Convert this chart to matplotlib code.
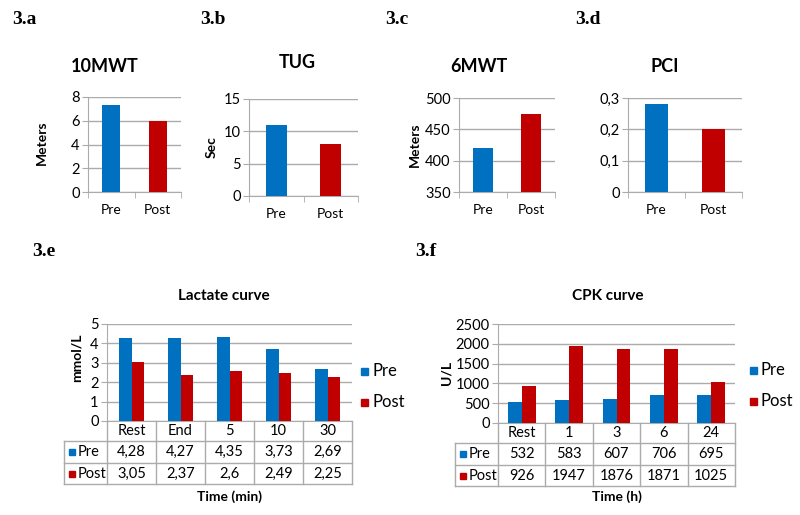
import matplotlib
matplotlib.use('Agg')
import matplotlib.pyplot as plt
from matplotlib.transforms import blended_transform_factory as blend
from matplotlib.patches import Rectangle
from matplotlib.lines import Line2D

plt.rcParams['font.family'] = ['Lato', 'DejaVu Sans']

# ---------------- data ----------------
groups = ['Pre', 'Post']
mwt10 = [7.3, 6.0]
tug = [11, 8]
mwt6 = [420, 475]
pci = [0.28, 0.20]

lact_times = ['Rest', 'End', '5', '10', '30']
lact_pre = [4.28, 4.27, 4.35, 3.73, 2.69]
lact_post = [3.05, 2.37, 2.6, 2.49, 2.25]

cpk_times = ['Rest', '1', '3', '6', '24']
cpk_pre = [532, 583, 607, 706, 695]
cpk_post = [926, 1947, 1876, 1871, 1025]

panel_letters = ['3.a', '3.b', '3.c', '3.d', '3.e', '3.f']

# ---------------- style ----------------
W, H = 800, 515
BLUE = '#0070C0'
RED = '#C00000'
GRID = '#ABABAB'

fig = plt.figure(figsize=(W / 100, H / 100), dpi=100)


def box(l, t, r, b):
    return [l / W, 1 - b / H, (r - l) / W, (b - t) / H]


def fx(x):
    return x / W


def fy(y):
    return 1 - y / H


def comma(v):
    return f"{v:g}".replace('.', ',')


def style_axes(ax, ls):
    for s in ['top', 'right']:
        ax.spines[s].set_visible(False)
    ax.spines['left'].set_color(GRID)
    ax.spines['bottom'].set_color(GRID)
    ax.yaxis.grid(True, color=GRID, lw=1)
    ax.set_axisbelow(True)
    ax.tick_params(axis='y', length=4, color=GRID, labelsize=ls, pad=2)


def small(rect, vals, ylim, yticks, yfmt, width, title, tpos, ylabel=None, ylpos=None):
    ax = fig.add_axes(box(*rect))
    x = list(range(len(groups)))
    ax.bar(x, vals, width=width, color=[BLUE, RED], zorder=3)
    ax.set_xlim(-0.5, len(groups) - 0.5)
    ax.set_ylim(*ylim)
    ax.set_yticks(yticks)
    ax.set_yticklabels([yfmt(v) for v in yticks])
    style_axes(ax, 10.5)
    ax.set_xticks(x)
    ax.set_xticklabels(groups, fontsize=10)
    ax.tick_params(axis='x', which='major', length=0, pad=9)
    ax.set_xticks([i - 0.5 for i in range(len(groups) + 1)], minor=True)
    ax.tick_params(axis='x', which='minor', length=4, color=GRID, direction='out')
    fig.text(fx(tpos[0]), fy(tpos[1]), title, fontsize=13, fontweight='bold',
             ha='center', va='center')
    if ylabel:
        fig.text(fx(ylpos[0]), fy(ylpos[1]), ylabel, fontsize=10, fontweight='bold',
                 rotation=90, ha='center', va='center')
    return ax


small((88, 97, 181, 192), mwt10, (0, 8), [0, 2, 4, 6, 8], lambda v: f"{v:g}", 0.39,
      '10MWT', (105, 67), 'Meters', (42, 143))
small((249, 99, 358, 196), tug, (0, 15), [0, 5, 10, 15], lambda v: f"{v:g}", 0.39,
      'TUG', (297, 63), 'Sec', (212, 147))
small((459, 98, 555, 192), mwt6, (350, 500), [350, 400, 450, 500], lambda v: f"{v:g}", 0.41,
      '6MWT', (479, 66), 'Meters', (415, 145))
small((628, 98, 742, 192), pci, (0, 0.3), [0, 0.1, 0.2, 0.3], comma, 0.40,
      'PCI', (665, 66))


def big(rect, cats, pre, post, ylim, yticks, width, title, tpos, ylabel, ylpos,
        xlabel, xlpos, rows, tab_left, legpos, leg_gap):
    l, t, r, b = rect
    ax = fig.add_axes(box(*rect))
    x = list(range(len(cats)))
    ax.bar([i - width / 2 for i in x], pre, width=width, color=BLUE, zorder=3)
    ax.bar([i + width / 2 for i in x], post, width=width, color=RED, zorder=3)
    ax.set_xlim(-0.5, len(cats) - 0.5)
    ax.set_ylim(*ylim)
    ax.set_yticks(yticks)
    style_axes(ax, 10.5)
    ax.set_xticks([])
    tr = blend(ax.transData, fig.transFigure)
    # table lines
    y_ax, y_hdr, y_pre, y_post = b, rows[0], rows[1], rows[2]
    for i in range(len(cats) + 1):
        fig.add_artist(Line2D([i - 0.5, i - 0.5], [fy(y_ax), fy(y_post)],
                              transform=tr, color=GRID, lw=1))
    for yy in (y_hdr, y_pre, y_post):
        fig.add_artist(Line2D([fx(tab_left), fx(r)], [fy(yy), fy(yy)],
                              transform=fig.transFigure, color=GRID, lw=1))
    fig.add_artist(Line2D([fx(tab_left), fx(tab_left)], [fy(y_hdr), fy(y_post)],
                          transform=fig.transFigure, color=GRID, lw=1))
    # table text
    fs = 10.5
    for i, c in enumerate(cats):
        fig.text(i, fy((y_ax + y_hdr) / 2), c, transform=tr, ha='center', va='center', fontsize=fs)
        fig.text(i, fy((y_hdr + y_pre) / 2), comma(pre[i]), transform=tr, ha='center',
                 va='center', fontsize=fs)
        fig.text(i, fy((y_pre + y_post) / 2), comma(post[i]), transform=tr, ha='center',
                 va='center', fontsize=fs)
    for name, col, y0, y1 in (('Pre', BLUE, y_hdr, y_pre), ('Post', RED, y_pre, y_post)):
        yc = (y0 + y1) / 2
        fig.add_artist(Rectangle((fx(tab_left + 5), fy(yc + 3)), 6 / W, 6 / H,
                                 transform=fig.transFigure, color=col))
        fig.text(fx(tab_left + 14), fy(yc), name, ha='left', va='center', fontsize=fs)
    # legend
    for k, (name, col) in enumerate((('Pre', BLUE), ('Post', RED))):
        yc = legpos[1] + k * leg_gap
        fig.add_artist(Rectangle((fx(legpos[0]), fy(yc + 3.5)), 7 / W, 7 / H,
                                 transform=fig.transFigure, color=col))
        fig.text(fx(legpos[0] + 11), fy(yc), name, ha='left', va='center', fontsize=12)
    fig.text(fx(tpos[0]), fy(tpos[1]), title, fontsize=11, fontweight='bold',
             ha='center', va='center')
    fig.text(fx(ylpos[0]), fy(ylpos[1]), ylabel, fontsize=10, fontweight='bold',
             rotation=90, ha='center', va='center')
    fig.text(fx(xlpos[0]), fy(xlpos[1]), xlabel, fontsize=10, fontweight='bold',
             ha='center', va='center')
    return ax


big((107, 324, 352, 421), lact_times, lact_pre, lact_post, (0, 5), [0, 1, 2, 3, 4, 5], 0.265,
    'Lactate curve', (224, 296), 'mmol/L', (77, 358), 'Time (min)', (230, 497),
    (441, 463, 484), 64, (361, 371), 31)
big((498, 324, 735, 423), cpk_times, cpk_pre, cpk_post, (0, 2500),
    [0, 500, 1000, 1500, 2000, 2500], 0.295,
    'CPK curve', (608, 296), 'U/L', (447, 373), 'Time (h)', (617, 497),
    (443, 465, 486), 455, (750, 370), 31)

# panel letters
letter_pos = [(12, 20), (200, 20), (385, 20), (575, 20), (32, 252), (415, 252)]
for lab, (px, py) in zip(panel_letters, letter_pos):
    fig.text(fx(px), fy(py), lab, fontsize=14, fontweight='bold',
             family=['Liberation Serif', 'DejaVu Serif'], ha='left', va='center')

fig.savefig('out.png', dpi=100, facecolor='white')
